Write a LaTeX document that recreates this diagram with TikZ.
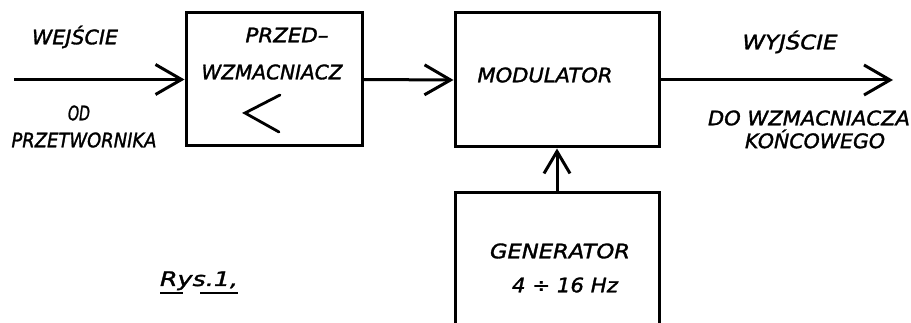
\documentclass[tikz,border=0pt]{standalone}
\usepackage{fontspec}
\usepackage{graphicx}
\setmainfont{DejaVu Sans}
\newfontfamily\letfont[FakeBold=1.5]{DejaVu Sans}
\usetikzlibrary{arrows.meta}
\newcommand{\fw}[2]{\resizebox{#1}{\height}{#2}}
\tikzset{
  blk/.style={draw, line width=3pt, minimum width=#1, inner sep=0pt},
  lab/.style={inner sep=0pt, font=\letfont\itshape\fontsize{20}{22}\selectfont},
  conn/.style={line width=3pt, -{Straight Barb[length=26pt,width=30pt,line width=3pt]}},
  thinline/.style={line width=2.8pt, line cap=round, line join=miter}
}
\begin{document}
\begin{tikzpicture}[x=1pt,y=-1pt]
\clip (0,0) rectangle (911,323);
\fill[white] (0,0) rectangle (911,323);
% blocks
\node[blk=176pt, minimum height=133pt] (pre) at (274,79.5) {};
\node[blk=204pt, minimum height=134pt] (mod) at (557,80) {};
\node[blk=204pt, minimum height=200pt] (gen) at (557,293) {};
% connectors
\coordinate (in) at (14,79.5);
\coordinate (out) at (893,80);
\draw[conn] (in) -- (pre.west);
\draw[conn] (pre.east) -- (mod.west);
\draw[conn] (mod.east) -- (out);
\draw[conn, -{Straight Barb[length=22pt,width=26pt,line width=3pt]}] (gen.north) -- (mod.south);
% amplifier symbol
\coordinate (s1) at (280,95);
\coordinate (s2) at (245,113);
\coordinate (s3) at (279,132);
\draw[thinline] (s1) -- (s2) -- (s3);
% labels
\node[lab] (t1) at (75,37) {\fw{86pt}{WEJŚCIE}};
\node[lab] (t2) at (79,113) {\fw{22pt}{OD}};
\node[lab] (t3) at (84,140) {\fw{145pt}{PRZETWORNIKA}};
\node[lab] (t4) at (287,35) {\fw{83pt}{PRZED–}};
\node[lab] (t5) at (272,72) {\fw{141pt}{WZMACNIACZ}};
\node[lab] (t6) at (545,75) {\fw{135pt}{MODULATOR}};
\node[lab] (t7) at (790,42) {\fw{95pt}{WYJŚCIE}};
\node[lab] (t8) at (809,118) {\fw{202pt}{DO WZMACNIACZA}};
\node[lab] (t9) at (815,139) {\fw{140pt}{KOŃCOWEGO}};
\node[lab] (t10) at (560,251) {\fw{140pt}{GENERATOR}};
\node[lab] (t11) at (565,285) {\fw{106pt}{4 ÷ 16 Hz}};
\node[lab, anchor=base] (t12) at (199,286) {\fw{78pt}{Rys.1,}};
\coordinate (u1) at (160,293);
\coordinate (u2) at (183,293);
\coordinate (u3) at (200,293);
\coordinate (u4) at (238,293);
\draw[line width=2pt] (u1) -- (u2) (u3) -- (u4);
\end{tikzpicture}
\end{document}
